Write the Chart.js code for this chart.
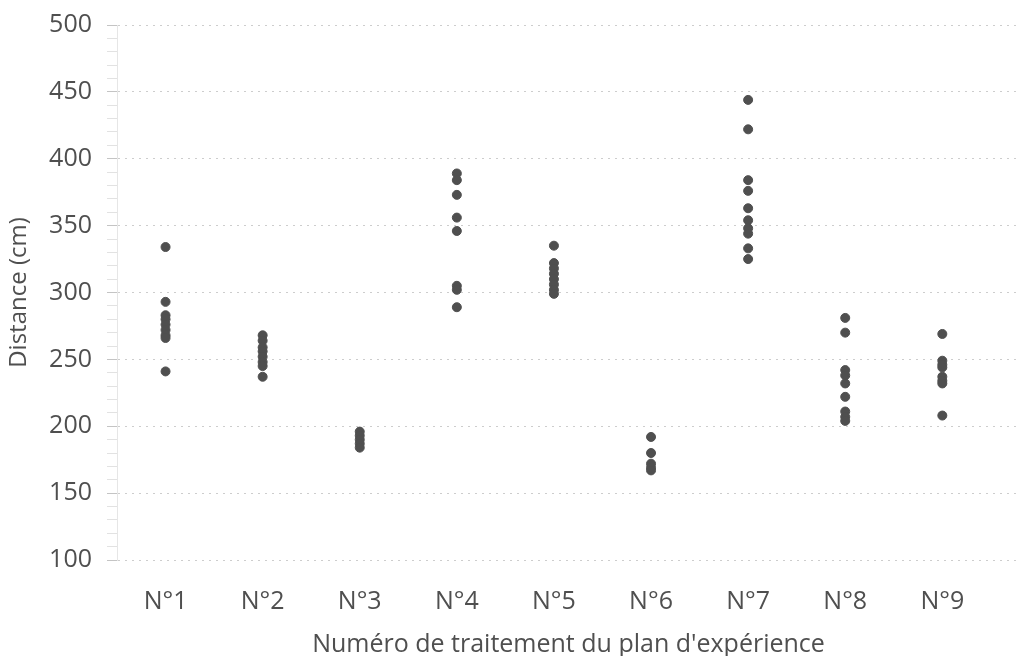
<!DOCTYPE html>
<html>
<head>
<meta charset="utf-8">
<script src="https://cdn.jsdelivr.net/npm/chart.js@4"></script>
<style>
  body { margin: 0; background: #fff; }
  #wrap { width: 1027px; height: 656px; }
</style>
</head>
<body>
<div id="wrap"><canvas id="graphique"></canvas></div>
<script>
const traitements = ["N°1", "N°2", "N°3", "N°4", "N°5", "N°6", "N°7", "N°8", "N°9"];

// distances mesurées (cm) pour chaque traitement
const t1 = [334, 293, 283, 280, 276, 272, 268, 266, 241];
const t2 = [268, 264, 259, 256, 252, 248, 245, 237];
const t3 = [196, 193, 190, 187, 184];
const t4 = [389, 384, 373, 356, 346, 305, 302, 289];
const t5 = [335, 322, 318, 314, 310, 306, 302, 299];
const t6 = [192, 180, 172, 169, 167];
const t7 = [444, 422, 384, 376, 363, 354, 348, 344, 333, 325];
const t8 = [281, 270, 242, 238, 232, 222, 211, 207, 204];
const t9 = [269, 249, 246, 244, 237, 234, 232, 208];

const yTicks = [100, 150, 200, 250, 300, 350, 400, 450, 500];

const series = [t1, t2, t3, t4, t5, t6, t7, t8, t9];
const points = [];
series.forEach((vals, i) => {
  vals.forEach(v => points.push({ x: i + 1, y: v }));
});

const police = "'Open Sans', 'DejaVu Sans', sans-serif";
const gris = "#4f4f4f";

new Chart(document.getElementById("graphique"), {
  type: "scatter",
  data: {
    datasets: [{
      data: points,
      backgroundColor: gris,
      borderColor: gris,
      pointRadius: 4.5,
      pointHoverRadius: 4.5
    }]
  },
  options: {
    responsive: true,
    maintainAspectRatio: false,
    animation: false,
    layout: { padding: { top: 0, right: 7, left: 0, bottom: 0 } },
    plugins: { legend: { display: false }, tooltip: { enabled: false } },
    scales: {
      x: {
        type: "linear",
        min: 0.5,
        max: 9.8,
        afterBuildTicks: (scale) => {
          scale.ticks = traitements.map((t, i) => ({ value: i + 1 }));
        },
        afterFit: (scale) => { scale.height = 96; },
        ticks: {
          callback: (v) => traitements[v - 1] || "",
          color: gris,
          font: { family: police, size: 25 },
          padding: 19
        },
        grid: { display: false },
        border: { display: false },
        title: {
          display: true,
          text: "Numéro de traitement du plan d'expérience",
          color: gris,
          font: { family: police, size: 25, lineHeight: 0.9 },
          padding: { top: 0, bottom: 0 }
        }
      },
      y: {
        min: 100,
        max: 500,
        afterBuildTicks: (scale) => {
          const t = [];
          for (let v = 100; v <= 500; v += 10) t.push({ value: v });
          scale.ticks = t;
        },
        afterFit: (scale) => { scale.width = 117; },
        ticks: {
          callback: (v) => yTicks.includes(v) ? String(v) : "",
          color: gris,
          font: { family: police, size: 25, lineHeight: 0.8 },
          padding: 15,
          autoSkip: false
        },
        grid: {
          color: (ctx) => ctx.tick && ctx.tick.value % 50 === 0 ? "#cdcdcd" : "rgba(0,0,0,0)",
          tickColor: (ctx) => ctx.tick && ctx.tick.value % 50 === 0 ? "#c4c4c4" : "#e2e2e2",
          tickLength: 10,
          lineWidth: 1
        },
        border: { display: true, color: "#e6e6e6", dash: [2, 5] },
        title: {
          display: true,
          text: "Distance (cm)",
          color: gris,
          font: { family: police, size: 24 },
          padding: { top: 5, bottom: 0 }
        }
      }
    }
  }
});
</script>
</body>
</html>
